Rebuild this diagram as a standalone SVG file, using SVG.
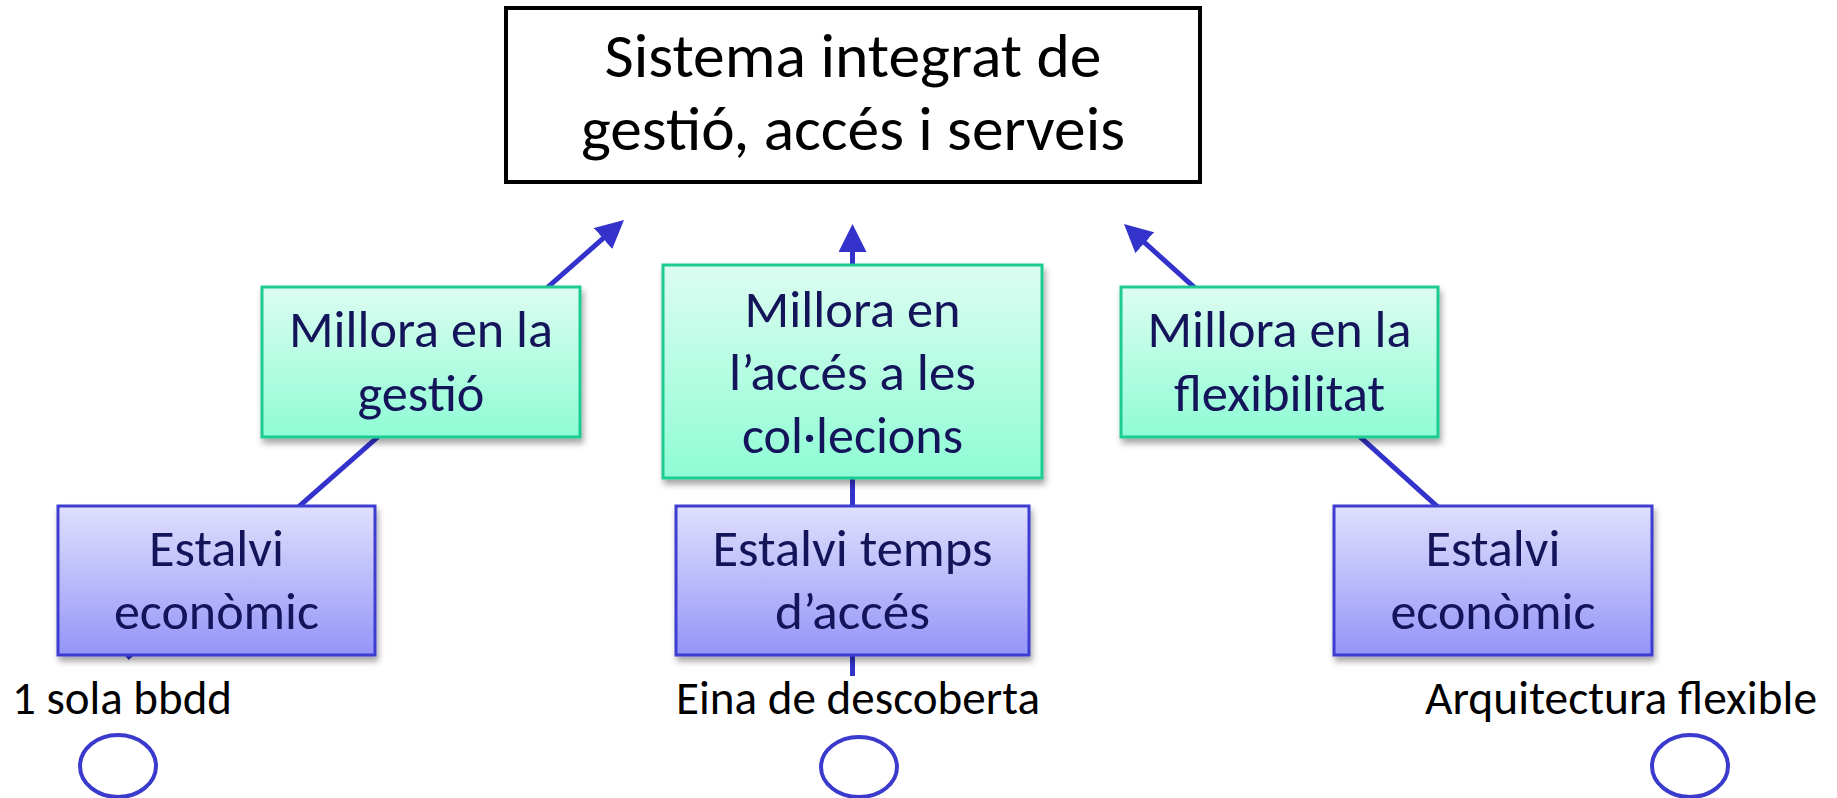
<svg xmlns="http://www.w3.org/2000/svg" width="1837" height="798" viewBox="0 0 1837 798">
  <defs>
    <linearGradient id="gGreen" x1="0" y1="0" x2="0" y2="1">
      <stop offset="0" stop-color="#dcfdf1"/>
      <stop offset="1" stop-color="#8ffcd5"/>
    </linearGradient>
    <linearGradient id="gBlue" x1="0" y1="0" x2="0" y2="1">
      <stop offset="0" stop-color="#dfdffd"/>
      <stop offset="1" stop-color="#9595f9"/>
    </linearGradient>
    <filter id="shadow" x="-10%" y="-10%" width="125%" height="130%">
      <feDropShadow dx="2" dy="5" stdDeviation="3" flood-color="#000" flood-opacity="0.35"/>
    </filter>
    <marker id="arrow" markerUnits="userSpaceOnUse" viewBox="0 0 28 28" refX="2" refY="14" markerWidth="28" markerHeight="28" orient="auto">
      <path d="M0,0 L28,14 L0,28 z" fill="#3333cc"/>
    </marker>
    <style>
      .conn { stroke: #3333cc; stroke-width: 5; fill: none; }
      .green { fill: url(#gGreen); stroke: #1ecb92; stroke-width: 3; filter: url(#shadow); }
      .blue { fill: url(#gBlue); stroke: #3c3cd2; stroke-width: 3; filter: url(#shadow); }
      .top { fill: #ffffff; stroke: #000000; stroke-width: 4; }
      .t { font-family: Carlito, Lato, "Open Sans", sans-serif; text-anchor: middle; fill: #14145a; font-size: 52px; }
      .tt { font-family: Carlito, Lato, "Open Sans", sans-serif; text-anchor: middle; fill: #000000; font-size: 62px; }
      .lbl { font-family: Carlito, Lato, "Open Sans", sans-serif; fill: #000000; font-size: 47px; }
      .ell { fill: none; stroke: #3a3acc; stroke-width: 4; }
    </style>
  </defs>

  <g id="connectors">
    <line class="conn" x1="127" y1="658" x2="604.5" y2="237.2" marker-end="url(#arrow)"/>
    <line class="conn" x1="852.5" y1="676" x2="852.5" y2="250" marker-end="url(#arrow)"/>
    <line class="conn" x1="1460" y1="527" x2="1143.3" y2="241.4" marker-end="url(#arrow)"/>
  </g>

  <g id="node-sistema">
    <rect class="top" x="506" y="8" width="694" height="174"/>
    <text class="tt" x="853" y="77" textLength="497" lengthAdjust="spacingAndGlyphs">Sistema integrat de</text>
    <text class="tt" x="853" y="150" textLength="544" lengthAdjust="spacingAndGlyphs">gestió, accés i serveis</text>
  </g>

  <g id="node-millora-gestio">
    <rect class="green" x="262" y="287" width="318" height="150"/>
    <text class="t" x="421" y="347" textLength="264" lengthAdjust="spacingAndGlyphs">Millora en la</text>
    <text class="t" x="421" y="411" textLength="127" lengthAdjust="spacingAndGlyphs">gestió</text>
  </g>

  <g id="node-millora-acces">
    <rect class="green" x="663" y="265" width="379" height="213"/>
    <text class="t" x="852.5" y="327" textLength="216" lengthAdjust="spacingAndGlyphs">Millora en</text>
    <text class="t" x="852.5" y="390" textLength="247" lengthAdjust="spacingAndGlyphs">l’accés a les</text>
    <text class="t" x="852.5" y="453" textLength="221" lengthAdjust="spacingAndGlyphs">col·lecions</text>
  </g>

  <g id="node-millora-flex">
    <rect class="green" x="1121" y="287" width="317" height="150"/>
    <text class="t" x="1279.5" y="347" textLength="264" lengthAdjust="spacingAndGlyphs">Millora en la</text>
    <text class="t" x="1279.5" y="411" textLength="211" lengthAdjust="spacingAndGlyphs">flexibilitat</text>
  </g>

  <g id="node-estalvi-1">
    <rect class="blue" x="58" y="506" width="317" height="149"/>
    <text class="t" x="216.5" y="566" textLength="135" lengthAdjust="spacingAndGlyphs">Estalvi</text>
    <text class="t" x="216.5" y="629" textLength="205" lengthAdjust="spacingAndGlyphs">econòmic</text>
  </g>

  <g id="node-estalvi-temps">
    <rect class="blue" x="676" y="506" width="353" height="149"/>
    <text class="t" x="852.5" y="566" textLength="280" lengthAdjust="spacingAndGlyphs">Estalvi temps</text>
    <text class="t" x="852.5" y="629" textLength="155" lengthAdjust="spacingAndGlyphs">d’accés</text>
  </g>

  <g id="node-estalvi-2">
    <rect class="blue" x="1334" y="506" width="318" height="149"/>
    <text class="t" x="1493" y="566" textLength="135" lengthAdjust="spacingAndGlyphs">Estalvi</text>
    <text class="t" x="1493" y="629" textLength="205" lengthAdjust="spacingAndGlyphs">econòmic</text>
  </g>

  <g id="label-bbdd">
    <text class="lbl" x="12" y="714" textLength="220" lengthAdjust="spacingAndGlyphs">1 sola bbdd</text>
    <ellipse class="ell" cx="118" cy="766" rx="38" ry="31"/>
  </g>

  <g id="label-eina">
    <text class="lbl" x="676" y="714" textLength="364" lengthAdjust="spacingAndGlyphs">Eina de descoberta</text>
    <ellipse class="ell" cx="859" cy="767" rx="38" ry="30"/>
  </g>

  <g id="label-arquitectura">
    <text class="lbl" x="1425" y="714" textLength="392" lengthAdjust="spacingAndGlyphs">Arquitectura flexible</text>
    <ellipse class="ell" cx="1690" cy="766" rx="38" ry="31"/>
  </g>
</svg>
